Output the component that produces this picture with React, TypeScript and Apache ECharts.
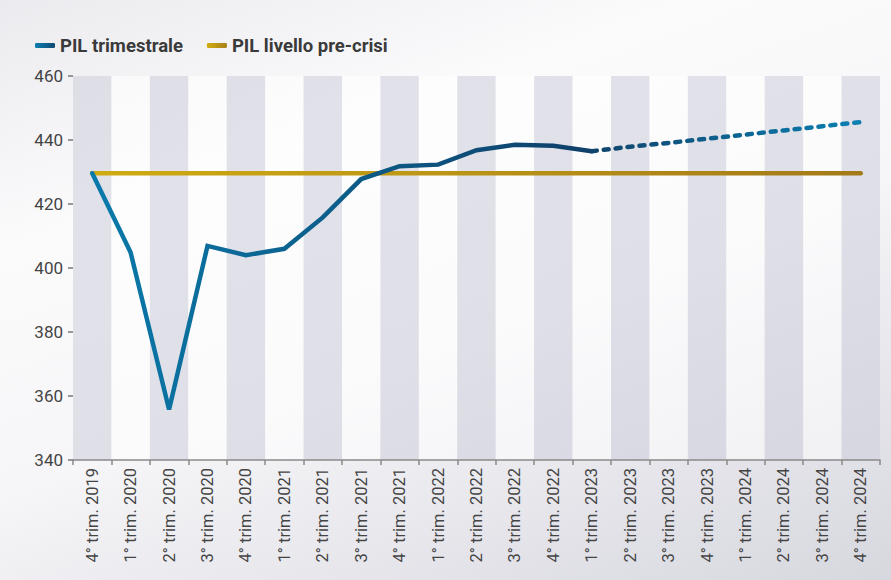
import React, { useEffect, useRef } from "react";
import * as echarts from "echarts";

const categories = [
  "4° trim. 2019", "1° trim. 2020", "2° trim. 2020", "3° trim. 2020", "4° trim. 2020",
  "1° trim. 2021", "2° trim. 2021", "3° trim. 2021", "4° trim. 2021",
  "1° trim. 2022", "2° trim. 2022", "3° trim. 2022", "4° trim. 2022",
  "1° trim. 2023", "2° trim. 2023", "3° trim. 2023", "4° trim. 2023",
  "1° trim. 2024", "2° trim. 2024", "3° trim. 2024", "4° trim. 2024",
];

const pilTrimestrale = [429.6, 404.8, 355.8, 406.9, 404, 406, 415.8, 427.8, 431.8, 432.3, 436.8, 438.5, 438.2, 436.5];
const pilPrevisione = [437.9, 439.1, 440.4, 441.7, 443.0, 444.3, 445.6];
const pilPreCrisi = [429.6, 429.6, 429.6, 429.6, 429.6, 429.6, 429.6, 429.6, 429.6, 429.6, 429.6, 429.6, 429.6, 429.6, 429.6, 429.6, 429.6, 429.6, 429.6, 429.6, 429.6];

const yMin = 340;
const yMax = 460;
const yInterval = 20;

const FONT = "Roboto, 'Noto Sans', sans-serif";

function grad(c0: string, c1: string) {
  return new echarts.graphic.LinearGradient(0, 0, 1, 0, [
    { offset: 0, color: c0 },
    { offset: 1, color: c1 },
  ]);
}

function globalGrad(x0: number, x1: number, c0: string, c1: string) {
  return new echarts.graphic.LinearGradient(
    x0,
    0,
    x1,
    0,
    [
      { offset: 0, color: c0 },
      { offset: 1, color: c1 },
    ],
    true
  );
}

export default function App() {
  const ref = useRef<HTMLDivElement>(null);

  useEffect(() => {
    document.body.style.margin = "0";
    if (!ref.current) return;
    const chart = echarts.init(ref.current, null, { renderer: "svg" });

    const solidData = categories.map((_, i) => (i < pilTrimestrale.length ? pilTrimestrale[i] : null));
    const lastIdx = pilTrimestrale.length - 1;
    const forecastData = categories.map((_, i) => {
      if (i < lastIdx) return null;
      if (i === lastIdx) return pilTrimestrale[lastIdx];
      return pilPrevisione[i - lastIdx - 1];
    });

    chart.setOption({
      animation: false,
      backgroundColor: "transparent",
      legend: {
        left: 30,
        top: 31,
        itemWidth: 20,
        itemHeight: 5,
        itemGap: 24,
        icon: "roundRect",
        textStyle: { fontFamily: FONT, fontSize: 18.5, fontWeight: "bold", color: "#3a3a3a" },
        data: [
          { name: "PIL trimestrale", itemStyle: { color: grad("#0b7fb0", "#0f4a74") } },
          { name: "PIL livello pre-crisi", itemStyle: { color: grad("#d0ad12", "#a88018") } },
        ],
      },
      grid: { left: 73, right: 11, top: 76, bottom: 120, containLabel: false },
      xAxis: {
        type: "category",
        data: categories,
        boundaryGap: true,
        axisLine: { show: true, lineStyle: { color: "#8a8a8a", width: 1.5 } },
        axisTick: { show: true, length: 5, lineStyle: { color: "#8a8a8a", width: 1.5 } },
        axisLabel: {
          rotate: 90,
          margin: 8,
          interval: 0,
          fontFamily: FONT,
          fontSize: 16.5,
          color: "#444",
        },
        splitLine: { show: false },
        splitArea: {
          show: true,
          areaStyle: { color: ["rgba(208,208,222,0.6)", "rgba(255,255,255,0.55)"] },
        },
      },
      yAxis: {
        type: "value",
        min: yMin,
        max: yMax,
        interval: yInterval,
        axisLine: { show: false },
        axisTick: { show: true, length: 5, lineStyle: { color: "#777", width: 1.5 } },
        axisLabel: { margin: 10, fontFamily: FONT, fontSize: 17, color: "#444" },
        splitLine: { show: false },
      },
      series: [
        {
          name: "PIL livello pre-crisi",
          type: "line",
          data: pilPreCrisi,
          symbol: "none",
          z: 2,
          lineStyle: { width: 4.5, color: globalGrad(92, 862, "#cfac12", "#a47a19"), cap: "round" },
          itemStyle: { color: "#c0a015" },
        },
        {
          name: "PIL trimestrale",
          type: "line",
          data: solidData,
          symbol: "none",
          z: 3,
          lineStyle: { width: 4.5, color: globalGrad(92, 594, "#0a7aaa", "#0f3f68"), cap: "round", join: "miter" },
          itemStyle: { color: "#0b6a99" },
        },
        {
          name: "PIL previsione",
          type: "line",
          data: forecastData,
          symbol: "none",
          z: 3,
          lineStyle: {
            width: 4.5,
            type: [5, 7],
            cap: "round",
            color: globalGrad(594, 862, "#0f446c", "#0a80b2"),
          },
          itemStyle: { color: "#0f5a85" },
        },
      ],
    });

    return () => chart.dispose();
  }, []);

  return (
    <div
      style={{
        position: "fixed",
        left: 0,
        top: 0,
        width: 891,
        height: 580,
        background:
          "linear-gradient(160deg, #ebebef 0%, #fbfbfc 28%, #f6f6f8 55%, #e4e4ea 80%, #d7d7df 100%)",
      }}
    >
      <div ref={ref} style={{ width: 891, height: 580 }} />
    </div>
  );
}
